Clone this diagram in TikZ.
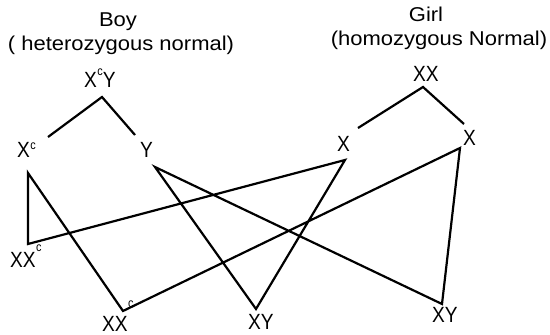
\documentclass[tikz,border=0pt]{standalone}
\usepackage{fontspec}
\setmainfont{Liberation Sans}
\newfontfamily\headfont[FakeStretch=1.1]{Liberation Sans}
\newfontfamily\labfont[FakeStretch=0.87]{Liberation Sans}
\newcommand{\supc}[1]{\kern0.5pt\raisebox{#1pt}{\labfont\fontsize{12.5}{12.5}\selectfont c}}
\begin{document}
\begin{tikzpicture}[x=1pt,y=-1pt,
  head/.style={font=\headfont\fontsize{20}{20}\selectfont, inner sep=0pt, text height=14.3pt, text depth=0pt},
  lab/.style={font=\labfont\fontsize{22}{22}\selectfont, inner sep=0pt, text height=15.75pt, text depth=0pt, anchor=west},
  link/.style={line width=2.2pt, line join=miter}]
\useasboundingbox (0,0) rectangle (550,335);
% headings
\node[head] (boy) at (118,19) {Boy};
\node[head] (boyd) at (121,43) {( heterozygous normal)};
\node[head] (girl) at (426,14.5) {Girl};
\node[head] (girld) at (439,38) {(homozygous Normal)};
% labels
\node[lab] (lXcY) at (84,79.5) {X\supc{12}Y};
\node[lab] (lXc) at (17,150) {X\supc{8}};
\node[lab] (lY) at (140,150) {Y};
\node[lab] (lXX) at (413,74) {XX};
\node[lab] (lX1) at (337,144) {X};
\node[lab] (lX2) at (463,138) {X};
\node[lab] (lXXc1) at (10,260) {XX\supc{16.5}};
\node[lab] (lXXc2) at (102,324) {XX\supc{24}};
\node[lab] (lXY1) at (248,322) {XY};
\node[lab] (lXY2) at (432,315) {XY};
% line end points
\coordinate (bT) at (102,97);
\coordinate (bL) at (48,137);
\coordinate (bR) at (135,135);
\coordinate (gT) at (423,87);
\coordinate (gL) at (358,128);
\coordinate (gR) at (464,124);
\coordinate (xcA) at (28,173);
\coordinate (xxc1) at (28,244);
\coordinate (xAp) at (345,160);
\coordinate (xy1) at (256,309);
\coordinate (yA) at (155,167);
\coordinate (xy2) at (442,304);
\coordinate (xBp) at (460,148);
\coordinate (xxc2) at (123,311);
% lines
\draw[link] (bL) -- (bT) -- (bR);
\draw[link] (gL) -- (gT) -- (gR);
\draw[link] (xcA) -- (xxc1) -- (xAp) -- (xy1) -- (yA) -- (xy2) -- (xBp) -- (xxc2) -- cycle;
\end{tikzpicture}
\end{document}
